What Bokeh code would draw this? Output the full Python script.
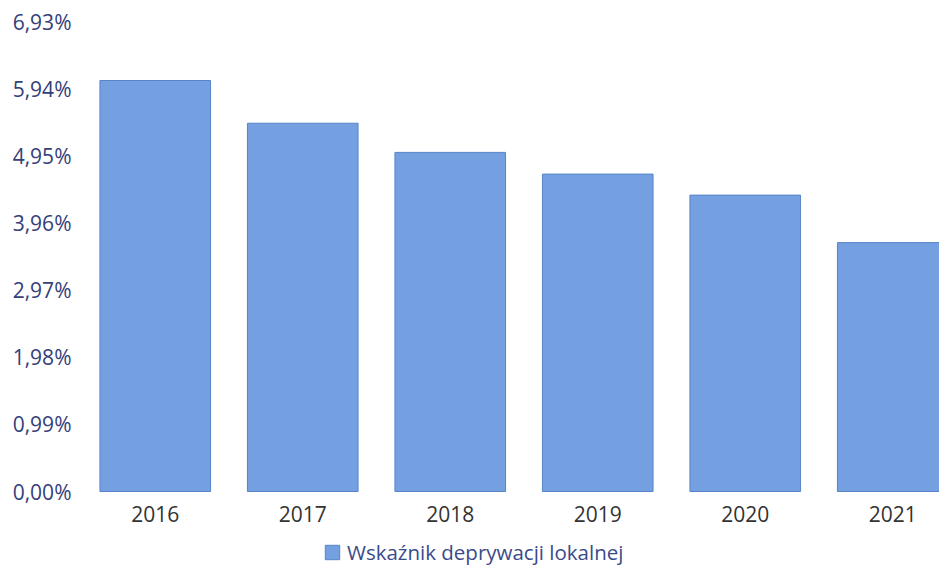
from bokeh.plotting import figure
from bokeh.models import Range1d, FixedTicker, Legend, LegendItem, ColumnDataSource
from bokeh.core.properties import value
from bokeh.embed import file_html
from bokeh.resources import INLINE

years = [2016, 2017, 2018, 2019, 2020, 2021]
values = [6.06, 5.43, 5.00, 4.68, 4.37, 3.67]
year_labels = [str(y) for y in years]
y_ticks = [0.0, 0.99, 1.98, 2.97, 3.96, 4.95, 5.94, 6.93]
y_tick_labels = ["0,00%", "0,99%", "1,98%", "2,97%", "3,96%", "4,95%", "5,94%", "6,93%"]
series_name = "Wskaźnik deprywacji lokalnej"

FONT = "Open Sans"
BAR = "#74a0e2"

# frame: value 6.93 at 21px from top, value 0 at 491px; frame continues to bottom (571)
Y_TOP = 6.93
Y_BOTTOM = -Y_TOP * 80 / 470

src = ColumnDataSource(dict(year=years, value=values, base=[0] * len(years), label=year_labels))

p = figure(width=939, height=571, output_backend="svg", toolbar_location=None,
           x_range=Range1d(2015.5, 2021.317), y_range=Range1d(Y_BOTTOM, Y_TOP),
           min_border_left=81, min_border_right=0, min_border_top=21, min_border_bottom=0)
p.outline_line_color = None
p.xgrid.grid_line_color = None
p.ygrid.grid_line_color = None
p.xaxis.visible = False

r = p.vbar(x="year", top="value", bottom="base", width=0.75, source=src,
           fill_color=BAR, line_color="#5585c8", line_width=1)

p.text(x="year", y="base", text="label", source=src, text_align="center",
       text_baseline="middle", y_offset=22, text_font=value(FONT),
       text_font_size="21px", text_color="#333333")

p.yaxis.ticker = FixedTicker(ticks=y_ticks)
p.yaxis.major_label_overrides = {t: l for t, l in zip(y_ticks, y_tick_labels)}
p.yaxis.axis_line_color = None
p.yaxis.major_tick_line_color = None
p.yaxis.minor_tick_line_color = None
p.yaxis.major_tick_out = 0
p.yaxis.major_tick_in = 0
p.yaxis.major_label_text_font = FONT
p.yaxis.major_label_text_font_size = "21px"
p.yaxis.major_label_text_color = "#34407a"
p.yaxis.major_label_standoff = 10

legend = Legend(items=[LegendItem(label=series_name, renderers=[r])],
                location=(242, 5), orientation="horizontal",
                label_text_font=FONT, label_text_font_size="20.5px",
                label_text_color="#3b4a8a", glyph_width=18, glyph_height=18,
                border_line_color=None, background_fill_alpha=0,
                margin=0, padding=4, label_standoff=6)
p.add_layout(legend, "center")

open("out.html", "w").write(file_html(p, INLINE))
